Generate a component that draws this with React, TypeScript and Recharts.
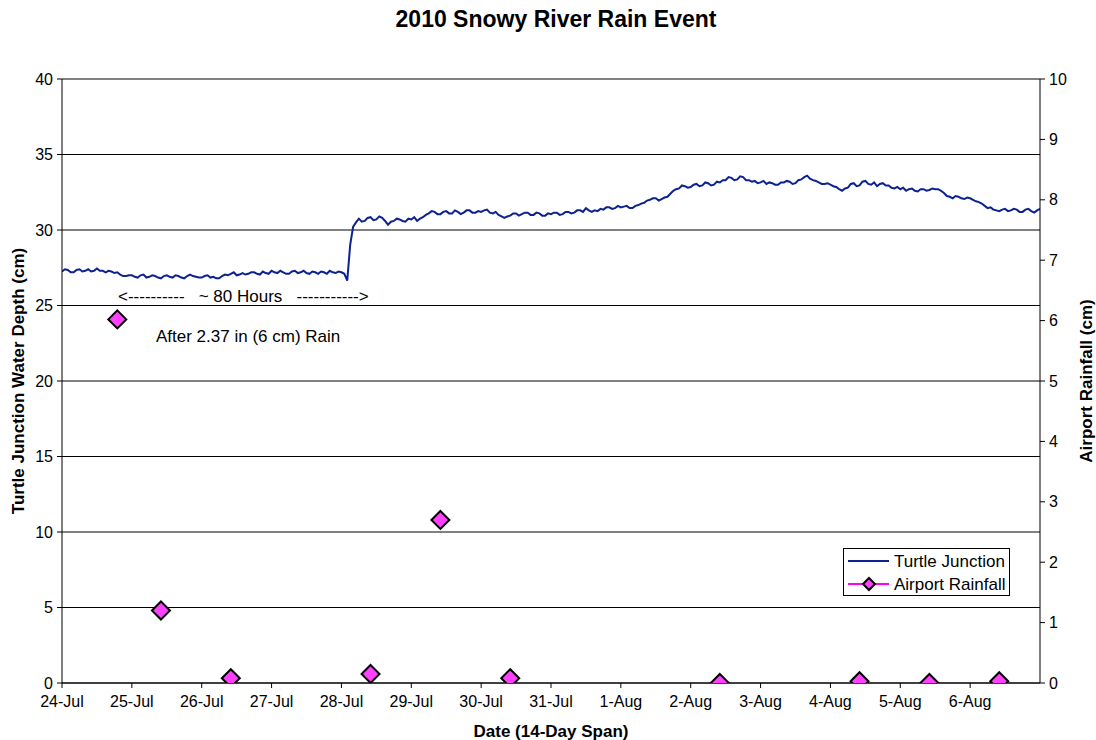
import React from 'react';
import { ComposedChart, Line, XAxis, YAxis, CartesianGrid, Legend } from 'recharts';

// ---- data ----
const dayLabels = ['24-Jul', '25-Jul', '26-Jul', '27-Jul', '28-Jul', '29-Jul', '30-Jul', '31-Jul', '1-Aug', '2-Aug', '3-Aug', '4-Aug', '5-Aug', '6-Aug'];
const xTicks = [0, 24, 48, 72, 96, 120, 144, 168, 192, 216, 240, 264, 288, 312];
const leftTicks = [0, 5, 10, 15, 20, 25, 30, 35, 40];
const rightTicks = [0, 1, 2, 3, 4, 5, 6, 7, 8, 9, 10];

// Turtle Junction water depth (cm), one value per hour from 24-Jul 00:00
const depthJul24 = [27.25, 27.4, 27.35, 27.2, 27.2, 27.35, 27.4, 27.25, 27.3, 27.4, 27.25, 27.3, 27.45, 27.3, 27.3, 27.2, 27.3, 27.25, 27.15, 27.2, 27.05, 26.95, 26.95, 27.0];
const depthJul25 = [27.0, 26.9, 26.85, 27.0, 27.05, 26.85, 26.9, 27.0, 26.95, 26.85, 26.8, 26.95, 27.0, 26.9, 26.85, 27.0, 26.95, 26.85, 26.8, 26.95, 27.05, 26.95, 26.9, 26.85];
const depthJul26 = [26.85, 26.95, 27.0, 26.85, 26.9, 26.8, 26.8, 26.95, 27.05, 27.0, 27.1, 27.2, 27.0, 27.05, 27.15, 27.05, 27.1, 27.2, 27.2, 27.1, 27.05, 27.25, 27.15, 27.1];
const depthJul27 = [27.3, 27.2, 27.15, 27.3, 27.2, 27.1, 27.1, 27.25, 27.3, 27.15, 27.2, 27.3, 27.15, 27.1, 27.25, 27.2, 27.1, 27.25, 27.2, 27.1, 27.3, 27.2, 27.15, 27.25];
const depthJul28 = [27.2, 27.1, 26.65, 29.0, 30.2, 30.5, 30.75, 30.55, 30.6, 30.8, 30.85, 30.65, 30.7, 30.9, 30.8, 30.6, 30.35, 30.55, 30.6, 30.75, 30.7, 30.6, 30.55, 30.75];
const depthJul29 = [30.7, 30.85, 30.6, 30.75, 30.85, 31.0, 31.1, 31.25, 31.2, 31.05, 31.05, 31.2, 31.25, 31.1, 31.1, 31.3, 31.2, 31.05, 31.15, 31.3, 31.3, 31.15, 31.15, 31.25];
const depthJul30 = [31.2, 31.3, 31.35, 31.15, 31.1, 31.2, 31.0, 30.9, 30.8, 30.9, 30.95, 31.1, 31.1, 30.95, 31.05, 31.15, 31.15, 31.0, 31.0, 31.15, 31.1, 30.95, 30.95, 31.1];
const depthJul31 = [31.05, 31.15, 31.15, 31.0, 31.05, 31.2, 31.2, 31.1, 31.15, 31.3, 31.3, 31.2, 31.45, 31.3, 31.2, 31.3, 31.25, 31.4, 31.35, 31.5, 31.5, 31.4, 31.45, 31.6];
const depthAug1 = [31.5, 31.55, 31.6, 31.45, 31.45, 31.6, 31.65, 31.75, 31.8, 31.95, 32.0, 32.1, 32.1, 31.95, 32.05, 32.15, 32.2, 32.4, 32.6, 32.7, 32.75, 32.95, 32.9, 32.8];
const depthAug2 = [32.85, 33.0, 33.05, 32.9, 32.95, 33.15, 33.1, 32.95, 33.0, 33.2, 33.15, 33.3, 33.3, 33.5, 33.45, 33.3, 33.35, 33.55, 33.5, 33.3, 33.3, 33.2, 33.25, 33.1];
const depthAug3 = [33.15, 33.25, 33.05, 33.15, 33.1, 33.0, 33.0, 33.15, 33.15, 33.25, 33.2, 33.05, 33.1, 33.3, 33.35, 33.5, 33.6, 33.4, 33.3, 33.25, 33.15, 33.05, 33.05, 33.1];
const depthAug4 = [33.0, 32.9, 32.85, 32.7, 32.6, 32.75, 32.8, 33.05, 33.1, 32.9, 32.95, 33.2, 33.25, 33.05, 33.0, 33.15, 32.9, 33.05, 33.1, 32.95, 32.95, 32.8, 32.75, 32.85];
const depthAug5 = [32.7, 32.8, 32.6, 32.7, 32.75, 32.6, 32.55, 32.7, 32.7, 32.6, 32.65, 32.75, 32.7, 32.7, 32.6, 32.45, 32.25, 32.2, 32.1, 32.25, 32.2, 32.1, 32.05, 32.15];
const depthAug6 = [32.1, 32.0, 31.9, 31.85, 31.75, 31.6, 31.45, 31.5, 31.35, 31.3, 31.25, 31.35, 31.4, 31.25, 31.3, 31.4, 31.35, 31.2, 31.2, 31.35, 31.4, 31.25, 31.15, 31.3, 31.4];

const depthValues = [
  ...depthJul24, ...depthJul25, ...depthJul26, ...depthJul27, ...depthJul28,
  ...depthJul29, ...depthJul30, ...depthJul31, ...depthAug1, ...depthAug2,
  ...depthAug3, ...depthAug4, ...depthAug5, ...depthAug6,
];

// Airport rainfall (cm), hours since 24-Jul 00:00
const rainHours = [19, 34, 58, 106, 130, 154, 226, 274, 298, 322];
const rainValues = [6.02, 1.2, 0.08, 0.15, 2.7, 0.08, 0.0, 0.03, 0.0, 0.03];

const depthData = depthValues.map((depth, hour) => ({ h: hour, depth }));
const rainData = rainHours.map((h, i) => ({ h, rain: rainValues[i] }));

const FONT = '"Liberation Sans", Arial, sans-serif';
const LINE_COLOR = '#0d2291';
const DIAMOND_FILL = '#ff40ff';

const Diamond = (props: any) => {
  const { cx, cy, index } = props;
  if (cx == null || cy == null) return <g key={`d-${index}`} />;
  const r = 9;
  return (
    <path
      key={`d-${index}`}
      d={`M${cx},${cy - r} L${cx + r},${cy} L${cx},${cy + r} L${cx - r},${cy} Z`}
      fill={DIAMOND_FILL}
      stroke="#000"
      strokeWidth={2}
    />
  );
};

const LegendBox = () => (
  <div
    style={{
      border: '1px solid #000',
      background: '#fff',
      width: 167,
      height: 48,
      boxSizing: 'border-box',
      position: 'relative',
    }}
  >
    <svg width={167} height={48} style={{ position: 'absolute', left: 0, top: 0 }}>
      <line x1={4} x2={45} y1={12} y2={12} stroke={LINE_COLOR} strokeWidth={2} />
      <text x={50} y={18} fontSize={17} fontFamily={FONT} fill="#000">Turtle Junction</text>
      <line x1={4} x2={45} y1={35} y2={35} stroke="#ff00ff" strokeWidth={2} />
      <path d="M25,29 L31,35 L25,41 L19,35 Z" fill={DIAMOND_FILL} stroke="#000" strokeWidth={2} />
      <text x={50} y={41} fontSize={17} fontFamily={FONT} fill="#000">Airport Rainfall</text>
    </svg>
  </div>
);

export default function App() {
  const tickStyle = { fontSize: 16, fill: '#000', fontFamily: FONT };
  return (
    <div style={{ position: 'absolute', left: 0, top: 0, width: 1096, height: 740, background: '#fff' }}>
      <ComposedChart width={1096} height={740} margin={{ top: 79, right: 0, bottom: 0, left: 0 }}>
        <CartesianGrid yAxisId="left" vertical={false} horizontal stroke="#000" strokeWidth={1} />
        <XAxis
          type="number"
          dataKey="h"
          domain={[0, 336]}
          ticks={xTicks}
          interval={0}
          allowDataOverflow
          tickFormatter={(v: number) => dayLabels[Math.round(v / 24)] ?? ''}
          height={57}
          tickSize={5}
          tickMargin={8}
          tick={tickStyle}
          stroke="#000"
        />
        <YAxis
          yAxisId="left"
          orientation="left"
          domain={[0, 40]}
          ticks={leftTicks}
          interval={0}
          width={62}
          tickSize={5}
          tickMargin={4}
          tick={tickStyle}
          stroke="#000"
          allowDataOverflow
        />
        <YAxis
          yAxisId="right"
          orientation="right"
          domain={[0, 10]}
          ticks={rightTicks}
          interval={0}
          width={56}
          tickSize={5}
          tickMargin={4}
          tick={tickStyle}
          stroke="#000"
          allowDataOverflow
        />
        <Line
          yAxisId="left"
          data={depthData}
          dataKey="depth"
          name="Turtle Junction"
          type="linear"
          stroke={LINE_COLOR}
          strokeWidth={2}
          dot={false}
          activeDot={false}
          isAnimationActive={false}
        />
        <Line
          yAxisId="right"
          data={rainData}
          dataKey="rain"
          name="Airport Rainfall"
          stroke="none"
          dot={Diamond}
          activeDot={false}
          isAnimationActive={false}
        />
        <Legend
          layout="horizontal"
          verticalAlign="middle"
          align="center"
          content={() => <LegendBox />}
          wrapperStyle={{ position: 'absolute', left: 843, top: 548, width: 167, height: 48 }}
        />
      </ComposedChart>
      <svg
        width={1096}
        height={740}
        style={{ position: 'absolute', left: 0, top: 0, pointerEvents: 'none' }}
        fontFamily={FONT}
      >
        <text x={556} y={27} textAnchor="middle" fontSize={23} fontWeight="bold" fill="#000">
          2010 Snowy River Rain Event
        </text>
        <text transform="translate(24,381) rotate(-90)" textAnchor="middle" fontSize={17} fontWeight="bold" fill="#000">
          Turtle Junction Water Depth (cm)
        </text>
        <text transform="translate(1092,381) rotate(-90)" textAnchor="middle" fontSize={17} fontWeight="bold" fill="#000">
          Airport Rainfall (cm)
        </text>
        <text x={551} y={737} textAnchor="middle" fontSize={17} fontWeight="bold" fill="#000">
          Date (14-Day Span)
        </text>
        <text x={118} y={302} fontSize={17} fill="#000" style={{ whiteSpace: 'pre' }}>
          {'<----------   ~ 80 Hours   ----------->'}
        </text>
        <text x={156} y={342} fontSize={17} fill="#000">
          After 2.37 in (6 cm) Rain
        </text>
      </svg>
    </div>
  );
}
